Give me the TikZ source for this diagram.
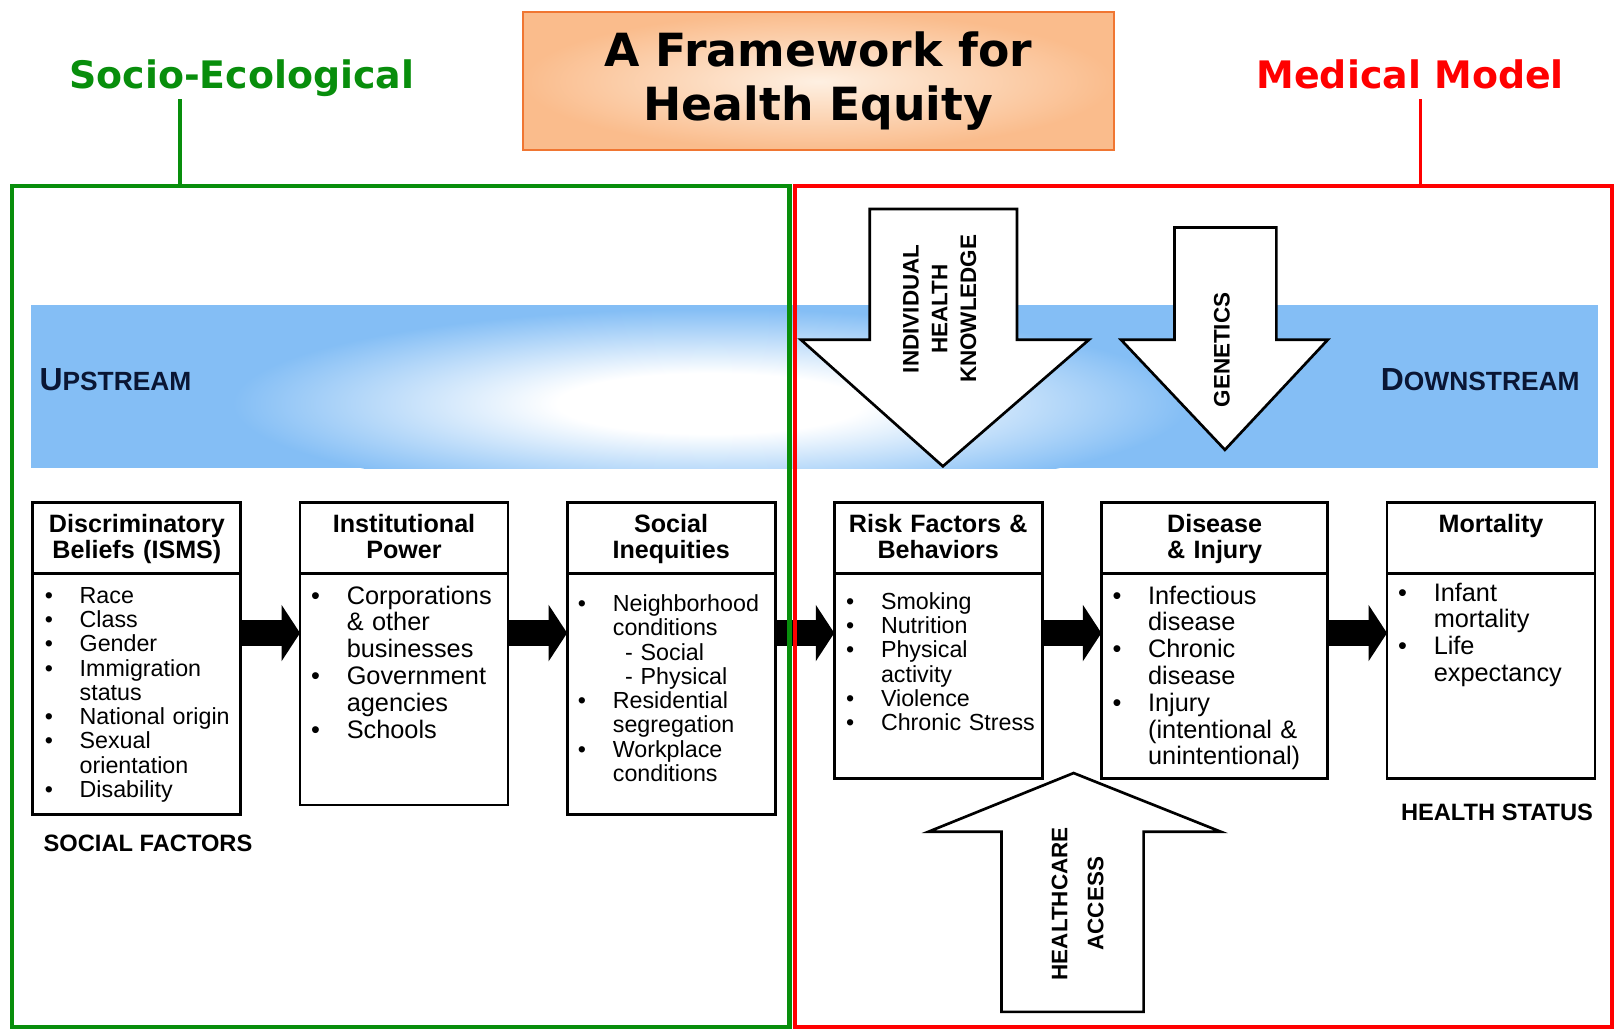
\documentclass[tikz,border=0pt]{standalone}
\usepackage{fontspec}
\setmainfont{Liberation Sans}
\newfontfamily\titlefont{DejaVu Sans}
\usepackage{xcolor}
\usepackage{tikz}
\usetikzlibrary{positioning}
\usetikzlibrary{arrows.meta}

\definecolor{bandblue}{RGB}{132,190,245}
\definecolor{peach}{RGB}{250,188,140}
\definecolor{titlelight}{RGB}{254,240,226}
\definecolor{titleline}{RGB}{240,118,50}
\definecolor{ecogreen}{RGB}{8,142,12}
\definecolor{medred}{RGB}{255,0,0}
\definecolor{streamtext}{RGB}{10,22,52}

\pgfdeclareradialshading{bandglow}{\pgfpoint{0bp}{0bp}}{color(0bp)=(white); color(8bp)=(white); color(25bp)=(bandblue); color(50bp)=(bandblue)}
\pgfdeclareradialshading{titleglow}{\pgfpoint{0bp}{0bp}}{color(0bp)=(titlelight); color(10bp)=(titlelight!60!peach); color(25bp)=(peach); color(50bp)=(peach)}

\newcommand{\bul}{\leavevmode\llap{\textbullet\hspace{13pt}}}
\newcommand{\smallbody}{\fontsize{11.3}{11.8}\selectfont}
\newcommand{\largebody}{\fontsize{12.3}{13}\selectfont}

\begin{document}
\begin{tikzpicture}[x=0.5pt,y=-0.5pt]
        \tikzset{
            boxframe/.style={draw, line width=1.4pt, fill=white, inner sep=0pt,
                outer sep=0pt, minimum width=101pt},
            head/.style={font=\fontsize{12.2}{13}\selectfont\bfseries, align=center,
                anchor=base, inner sep=0pt, text width=100pt},
            bodytext/.style={align=left, anchor=base west, inner sep=0pt, text width=80pt},
            flow/.style={line width=12.5pt, -{Triangle[length=9pt, width=27pt]}},
            bigarrow/.style={draw, line width=1.3pt, fill=white, line join=miter},
            sidetext/.style={font=\fontsize{10.9}{14}\selectfont\bfseries, align=center,
                rotate=90, inner sep=0pt},
            tagtext/.style={font=\fontsize{11.5}{12}\selectfont\bfseries, inner sep=0pt},
            model/.style={font=\titlefont\fontsize{18.4}{20}\selectfont\bfseries,
                inner sep=0pt, text depth=5pt},
        }
        \useasboundingbox (0,0) rectangle (1568,1001);
        \fill[white] (0,0) rectangle (1568,1001);

        \node[draw=titleline, line width=1pt, shade, shading=titleglow,
            minimum width=287pt, minimum height=67pt, align=center,
            font=\titlefont\fontsize{22.2}{26}\selectfont\bfseries] (title) at (795,79)
            {A Framework for\\Health Equity};
        \node[model, text=ecogreen] (socio) at (235,77) {Socio-Ecological};
        \node[model, text=medred] (medical) at (1370,77) {Medical Model};

        % upstream / downstream band
        \fill[bandblue] (30,296) rectangle (1552,455);
        \begin{scope}
            \clip (30,296) rectangle (1552,455);
            \shade[shading=bandglow] (690,392) ellipse [x radius=232pt, y radius=46pt];
        \end{scope}
        \node[anchor=base west, text=streamtext, font=\bfseries, inner sep=0pt] (up) at (38,379)
            {{\fontsize{15.5}{16}\selectfont U}{\fontsize{12.8}{13}\selectfont PSTREAM}};
        \node[anchor=base east, text=streamtext, font=\bfseries, inner sep=0pt] (down) at (1535,379)
            {{\fontsize{15.5}{16}\selectfont D}{\fontsize{12.8}{13}\selectfont OWNSTREAM}};

        \draw[bigarrow] (845,203) -- (988,203) -- (988,330) -- (1058,330) -- (916,453)
            -- (778,330) -- (845,330) -- cycle;
        \node[sidetext] (ihk) at (913,300) {INDIVIDUAL\\HEALTH\\KNOWLEDGE};
        \draw[bigarrow] (1141,221) -- (1240,221) -- (1240,330) -- (1290,330) -- (1190,437)
            -- (1089,330) -- (1141,330) -- cycle;
        \node[sidetext] (gen) at (1187,340) {GENETICS};

        % the six boxes
        \node[boxframe, anchor=north west, minimum height=151.5pt] (b1) at (32,488) {};
        \node[boxframe, right=28.75pt of b1.north east, anchor=north west, minimum height=147pt] (b2) {};
        \node[boxframe, right=28.75pt of b2.north east, anchor=north west, minimum height=151.5pt] (b3) {};
        \node[boxframe, right=28.75pt of b3.north east, anchor=north west, minimum height=134pt] (b4) {};
        \node[boxframe, right=28.75pt of b4.north east, anchor=north west, minimum height=134pt,
            minimum width=110pt] (b5) {};
        \node[boxframe, right=28.75pt of b5.north east, anchor=north west, minimum height=134pt] (b6) {};

        \foreach \b in {b1,b2,b3,b4,b5,b6}
            \draw[line width=1.4pt] ([yshift=-34.5pt]\b.north west) -- ([yshift=-34.5pt]\b.north east);
        \foreach \a/\b in {b1/b2,b2/b3,b3/b4,b4/b5,b5/b6}
            \draw[flow] ([yshift=-63.5pt]\a.north east) -- ([yshift=-63.5pt]\b.north west);

        \node[head] (h1) at ([yshift=-14.5pt]b1.north) {Discriminatory\\Beliefs (ISMS)};
        \node[head] (h2) at ([yshift=-14.5pt]b2.north) {Institutional\\Power};
        \node[head] (h3) at ([yshift=-14.5pt]b3.north) {Social\\Inequities};
        \node[head] (h4) at ([yshift=-14.5pt]b4.north) {Risk Factors \&\\Behaviors};
        \node[head, text width=109pt] (h5) at ([yshift=-14.5pt]b5.north) {Disease\\\& Injury};
        \node[head] (h6) at ([yshift=-14.5pt]b6.north) {Mortality};

        \node[bodytext, font=\smallbody] (c1) at ([xshift=22.5pt, yshift=-49pt]b1.north west)
            {\bul Race\\ \bul Class\\ \bul Gender\\ \bul Immigration\\ status\\
             \bul National origin\\ \bul Sexual\\ orientation\\ \bul Disability};
        \node[bodytext, font=\largebody] (c2) at ([xshift=22.5pt, yshift=-49.5pt]b2.north west)
            {\bul Corporations\\ \& other\\ businesses\\ \bul Government\\ agencies\\ \bul Schools};
        \node[bodytext, font=\smallbody] (c3) at ([xshift=22pt, yshift=-53pt]b3.north west)
            {\bul Neighborhood\\ conditions\\ \hspace*{6pt}- Social\\ \hspace*{6pt}- Physical\\
             \bul Residential\\ segregation\\ \bul Workplace\\ conditions};
        \node[bodytext, font=\smallbody] (c4) at ([xshift=22.5pt, yshift=-52pt]b4.north west)
            {\bul Smoking\\ \bul Nutrition\\ \bul Physical\\ activity\\ \bul Violence\\ \bul Chronic Stress};
        \node[bodytext, font=\largebody] (c5) at ([xshift=22.5pt, yshift=-49.5pt]b5.north west)
            {\bul Infectious\\ disease\\ \bul Chronic\\ disease\\ \bul Injury\\ (intentional \&\\ unintentional)};
        \node[bodytext, font=\largebody] (c6) at ([xshift=22.5pt, yshift=-48pt]b6.north west)
            {\bul Infant\\ mortality\\ \bul Life\\ expectancy};

        \node[tagtext, anchor=base west] (social) at (42,827) {SOCIAL FACTORS};
        \node[tagtext, anchor=base east] (status) at (1548,797) {HEALTH STATUS};

        \draw[bigarrow] (973,983) -- (1111,983) -- (1111,808) -- (1186,808) -- (1043,751)
            -- (902,808) -- (973,808) -- cycle;
        \node[sidetext, font=\fontsize{10.9}{17.5}\selectfont\bfseries] (hca) at (1047,878)
            {HEALTHCARE\\ACCESS};

        % the two models
        \node[draw=ecogreen, line width=2pt, inner sep=0pt, outer sep=0pt, anchor=north west,
            minimum width=377.5pt, minimum height=408.5pt] (ecobox) at (12,181) {};
        \node[draw=medred, line width=1.8pt, inner sep=0pt, outer sep=0pt, anchor=north west,
            minimum width=397pt, minimum height=408.5pt] (medbox) at (772,181) {};
        \coordinate (ecotop) at ([xshift=-30pt]socio.south);
        \draw[ecogreen, line width=2pt] (ecotop) -- (ecotop |- ecobox.north);
        \coordinate (medtop) at ([xshift=5pt]medical.south);
        \draw[medred, line width=1.8pt] (medtop) -- (medtop |- medbox.north);
    \end{tikzpicture}
\end{document}
